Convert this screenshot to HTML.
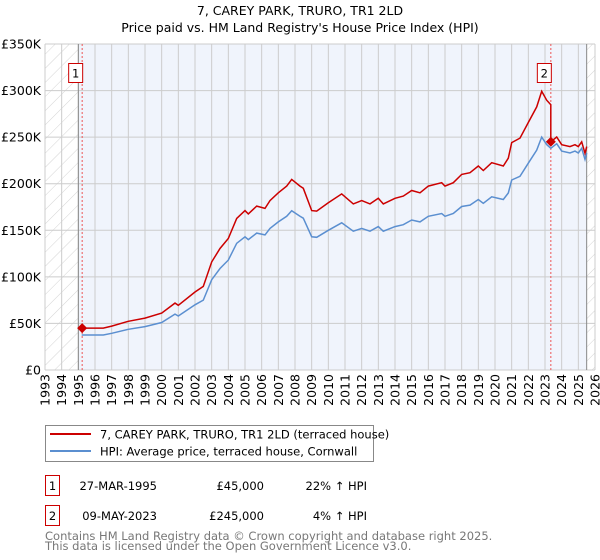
<!DOCTYPE html>
<html><head><meta charset="utf-8"><style>
body{margin:0;background:#fff;}
svg{display:block;font-family:"DejaVu Sans","Liberation Sans",sans-serif;}
</style></head><body>
<svg id="c" width="600" height="560" viewBox="0 0 600 560">
<defs>
<pattern id="hatch" patternUnits="userSpaceOnUse" width="10" height="10" patternTransform="rotate(45)">
<line x1="0" y1="0" x2="0" y2="10" stroke="#d4d4d4" stroke-width="1"/>
</pattern>
</defs>
<text x="300" y="15" text-anchor="middle" font-size="12.5" fill="#000">7, CAREY PARK, TRURO, TR1 2LD</text>
<text x="300" y="32" text-anchor="middle" font-size="12.5" fill="#000">Price paid vs. HM Land Registry's House Price Index (HPI)</text>
<g id="plot"></g>
<g>
<rect x="45.5" y="425.5" width="328" height="36" fill="#fff" stroke="#888"/>
<line x1="50" y1="434" x2="91" y2="434" stroke="#cc0000" stroke-width="2"/>
<text x="100" y="438.5" font-size="11.5">7, CAREY PARK, TRURO, TR1 2LD (terraced house)</text>
<line x1="50" y1="451" x2="91" y2="451" stroke="#5b8fd0" stroke-width="2"/>
<text x="100" y="455.5" font-size="11.5">HPI: Average price, terraced house, Cornwall</text>
</g>
<g font-size="11.5">
<rect x="45.5" y="475.5" width="14" height="20" fill="#fff" stroke="#cc0000"/>
<text x="52.5" y="490" text-anchor="middle">1</text>
<text x="157" y="490" text-anchor="end">27-MAR-1995</text>
<text x="264" y="490" text-anchor="end">£45,000</text>
<text x="367" y="490" text-anchor="end">22% ↑ HPI</text>
<rect x="45.5" y="505.5" width="14" height="20" fill="#fff" stroke="#cc0000"/>
<text x="52.5" y="520" text-anchor="middle">2</text>
<text x="157" y="520" text-anchor="end">09-MAY-2023</text>
<text x="264" y="520" text-anchor="end">£245,000</text>
<text x="367" y="520" text-anchor="end">4% ↑ HPI</text>
</g>
<text x="45" y="540" font-size="11.5" fill="#777">Contains HM Land Registry data © Crown copyright and database right 2025.</text>
<text x="45" y="550" font-size="11.5" fill="#777">This data is licensed under the Open Government Licence v3.0.</text>
</svg>
<script>
const hpiYears=[1995.2,1996.5,1997,1998,1999,2000,2000.8,2001,2002,2002.5,2003,2003.5,2004,2004.5,2005,2005.2,2005.7,2006.2,2006.5,2007,2007.5,2007.8,2008.3,2008.5,2009,2009.3,2010,2010.8,2011.5,2012,2012.5,2013,2013.3,2014,2014.5,2015,2015.5,2016,2016.8,2017,2017.5,2018,2018.5,2019,2019.3,2019.8,2020.5,2020.8,2021,2021.5,2022,2022.5,2022.8,2023.1,2023.35,2023.7,2024,2024.5,2024.8,2025,2025.2,2025.4,2025.5];
const hpiValues=[37.6,37.6,39.4,43.7,46.6,51,60,58,70,75,97,109,118,136,143,140,147,145,152,159,165,171,165,163,143,142.5,150,158,149,152,149,154,149,154,156,161,159,165,168,165,168,175.5,177,183,179,186,183,190,204,208,222,236,250,242,238,243,235,233,235,233,238,226,233];
const saleYears=[1995.23,2023.35];
const salePrices=[45,245];
const yTicks=[0,50,100,150,200,250,300,350];
const yTickLabels=["£0","£50K","£100K","£150K","£200K","£250K","£300K","£350K"];
const xTicks=[1993,1994,1995,1996,1997,1998,1999,2000,2001,2002,2003,2004,2005,2006,2007,2008,2009,2010,2011,2012,2013,2014,2015,2016,2017,2018,2019,2020,2021,2022,2023,2024,2025,2026];

const X0=45,X1=595,Y0=370,Y1=44;
const xs=y=>X0+(y-1993)/(2026-1993)*(X1-X0);
const ys=v=>Y0-v/350*(Y0-Y1);
const NS="http://www.w3.org/2000/svg";
const g=document.getElementById('plot');
function mk(t,a){const e=document.createElementNS(NS,t);for(const k in a)e.setAttribute(k,a[k]);g.appendChild(e);return e;}
function hpiAt(t){for(let i=0;i<hpiYears.length-1;i++){if(t<=hpiYears[i+1]){const f=(t-hpiYears[i])/(hpiYears[i+1]-hpiYears[i]);return hpiValues[i]+f*(hpiValues[i+1]-hpiValues[i]);}}return hpiValues[hpiValues.length-1];}

let e=mk('rect',{x:X0,y:Y1,width:X1-X0,height:Y0-Y1,fill:'#f0f4fc'});


e=mk('rect',{x:X0,y:Y1,width:xs(1995)-X0,height:Y0-Y1,fill:'#fff'});


e=mk('rect',{x:xs(2025.5),y:Y1,width:X1-xs(2025.5),height:Y0-Y1,fill:'#fff'});


e=mk('rect',{x:X0,y:Y1,width:xs(1995)-X0,height:Y0-Y1,fill:'url(#hatch)'});


e=mk('rect',{x:xs(2025.5),y:Y1,width:X1-xs(2025.5),height:Y0-Y1,fill:'url(#hatch)'});


yTicks.forEach((v,i)=>{
 const l=mk('line',{x1:X0,x2:X1,y1:ys(v),y2:ys(v),stroke:'#cccccc','stroke-width':1});
 
 
 const t=mk('text',{x:X0-4,y:ys(v)+4.5,'text-anchor':'end','font-size':'12.5'});
 t.textContent=yTickLabels[i];
 
 
});
xTicks.forEach(yr=>{
 const l=mk('line',{x1:xs(yr),x2:xs(yr),y1:Y1,y2:Y0,stroke:'#cccccc','stroke-width':1});
 
 
 const t=mk('text',{x:0,y:0,'text-anchor':'end','font-size':'12.5',transform:`translate(${xs(yr)+4.5},${Y0+4}) rotate(-90)`});
 t.textContent=yr;
 
 
});
[1995,2025.5].forEach(yr=>{
 const l=mk('line',{x1:xs(yr),x2:xs(yr),y1:Y1,y2:Y0,stroke:'#888','stroke-width':1});
 
 
});
saleYears.forEach((yr,i)=>{
 const l=mk('line',{x1:xs(yr),x2:xs(yr),y1:Y1,y2:Y0,stroke:'#ee5555','stroke-width':1,'stroke-dasharray':'2,2'});
 
 
});
let d=hpiYears.map((t,i)=>(i?'L':'M')+xs(t).toFixed(1)+','+ys(hpiValues[i]).toFixed(1)).join('');
e=mk('path',{d:d,fill:'none',stroke:'#5b8fd0','stroke-width':1.5});


const r1=salePrices[0]/hpiAt(saleYears[0]), r2=salePrices[1]/hpiAt(saleYears[1]);
const pts=[[saleYears[0],salePrices[0]]];
hpiYears.forEach((t,i)=>{ if(t>saleYears[0]&&t<saleYears[1]) pts.push([t,hpiValues[i]*r1]); });
pts.push([saleYears[1],hpiAt(saleYears[1])*r1]);
pts.push([saleYears[1],salePrices[1]]);
hpiYears.forEach((t,i)=>{ if(t>saleYears[1]) pts.push([t,hpiValues[i]*r2]); });
d=pts.map((p,i)=>(i?'L':'M')+xs(p[0]).toFixed(1)+','+ys(p[1]).toFixed(1)).join('');
e=mk('path',{d:d,fill:'none',stroke:'#cc0000','stroke-width':1.5});


saleYears.forEach((yr,i)=>{
 const cx=xs(yr),cy=ys(salePrices[i]);
 const p=mk('path',{d:`M${cx-5},${cy}L${cx},${cy-5}L${cx+5},${cy}L${cx},${cy+5}Z`,fill:'#cc0000'});
 
 
 const b=mk('rect',{x:cx-13.5,y:63.5,width:14,height:19,fill:'#fff',stroke:'#cc0000'});
 
 
 const t=mk('text',{x:cx-6.5,y:77.5,'text-anchor':'middle','font-size':'11.5'});
 t.textContent=String(i+1);
 
 
});
</script>
</body></html>
